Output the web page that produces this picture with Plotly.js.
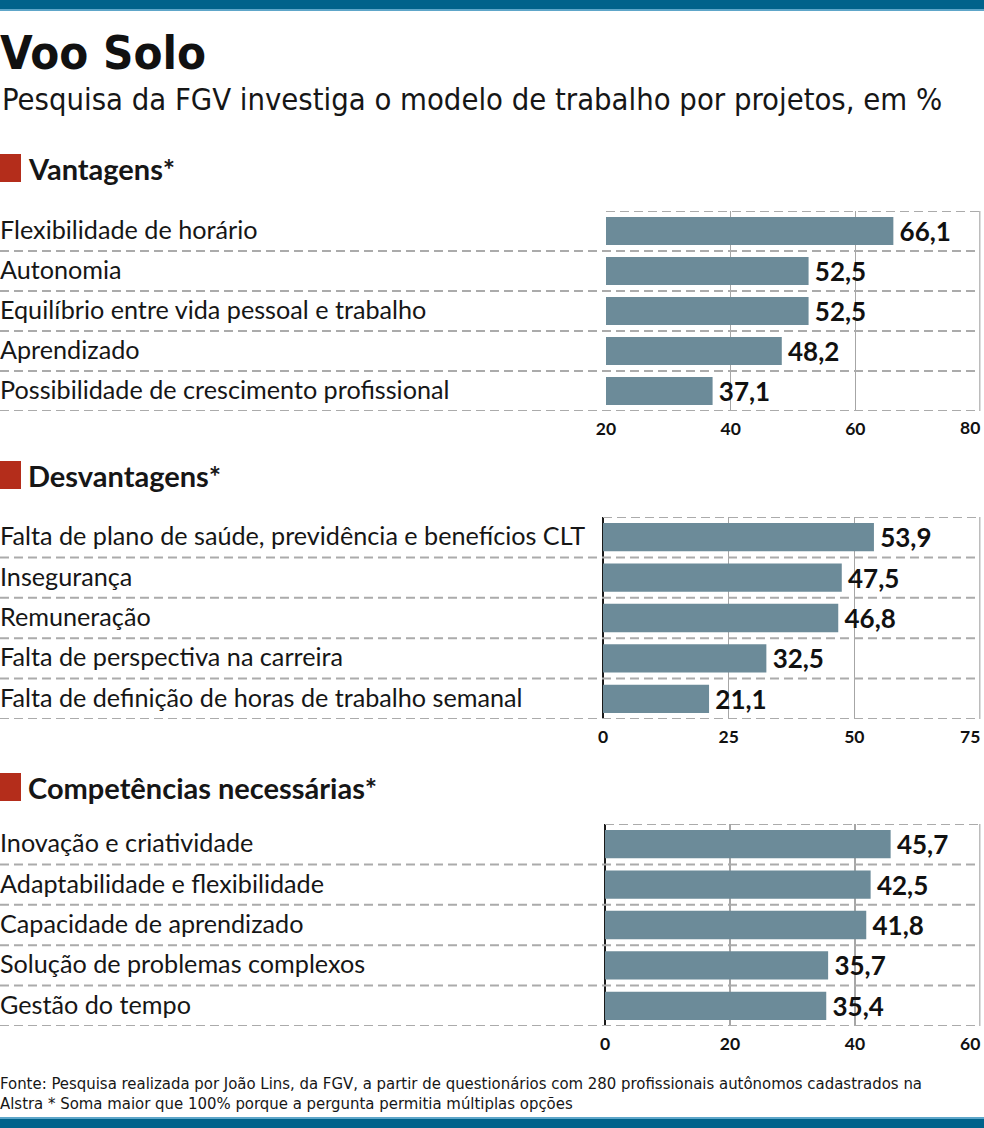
<!DOCTYPE html>
<html>
<head>
<meta charset="utf-8">
<script src="https://cdn.plot.ly/plotly-3.0.1.min.js"></script>
<style>html,body{margin:0;padding:0;background:#fff;}#chart{width:984px;height:1128px;}</style>
</head>
<body>
<div id="chart"></div>
<script>
// ---- DATA ----
const vantagensCats = ["Flexibilidade de horário", "Autonomia", "Equilíbrio entre vida pessoal e trabalho", "Aprendizado", "Possibilidade de crescimento profissional"];
const vantagensVals = [66.1, 52.5, 52.5, 48.2, 37.1];
const vantagensTicks = [20, 40, 60, 80];
const vantagensTickLabels = ["20", "40", "60", "80"];

const desvantagensCats = ["Falta de plano de saúde, previdência e benefícios CLT", "Insegurança", "Remuneração", "Falta de perspectiva na carreira", "Falta de definição de horas de trabalho semanal"];
const desvantagensVals = [53.9, 47.5, 46.8, 32.5, 21.1];
const desvantagensTicks = [0, 25, 50, 75];
const desvantagensTickLabels = ["0", "25", "50", "75"];

const competenciasCats = ["Inovação e criatividade", "Adaptabilidade e flexibilidade", "Capacidade de aprendizado", "Solução de problemas complexos", "Gestão do tempo"];
const competenciasVals = [45.7, 42.5, 41.8, 35.7, 35.4];
const competenciasTicks = [0, 20, 40, 60];
const competenciasTickLabels = ["0", "20", "40", "60"];

const sectionTitles = ["Vantagens*", "Desvantagens*", "Competências necessárias*"];
const titleText = "Voo Solo";
const subtitleText = "Pesquisa da FGV investiga o modelo de trabalho por projetos, em %";
const footerLines = ["Fonte: Pesquisa realizada por João Lins, da FGV, a partir de questionários com 280 profissionais autônomos cadastrados na",
                     "Alstra * Soma maior que 100% porque a pergunta permitia múltiplas opções"];

// ---- LAYOUT HELPERS ----
const W = 984, H = 1128;
const px = x => x / W;
const py = y => 1 - y / H;

const LABEL_FONT = "Lato, 'Noto Sans', sans-serif";
const BOLD_FONT = "Lato, Roboto, sans-serif";
const NARROW_FONT = "'DejaVu Sans Condensed', 'Liberation Sans', sans-serif";
const BAR_COLOR = "#6c8b99";
const GRID = "#a6a6a6";
const RED = "#b42d1b";
const INK = "#161616";
const TICK_FONT = {family: BOLD_FONT, size: 17.5, weight: "bold", color: "#111"};

const panels = [
  {cats: vantagensCats, vals: vantagensVals, ticks: vantagensTicks, tickLabels: vantagensTickLabels, range: [20, 80], x0: 606, x1: 980, y0: 211, y1: 411, zero: false, head: 168},
  {cats: desvantagensCats, vals: desvantagensVals, ticks: desvantagensTicks, tickLabels: desvantagensTickLabels, range: [0, 75], x0: 603, x1: 980, y0: 517, y1: 719, zero: true, head: 475},
  {cats: competenciasCats, vals: competenciasVals, ticks: competenciasTicks, tickLabels: competenciasTickLabels, range: [0, 60], x0: 605, x1: 980, y0: 824, y1: 1026, zero: true, head: 787}
];

const data = [];
const layout = {
  width: W, height: H,
  margin: {l: 0, r: 0, t: 0, b: 0, pad: 0},
  paper_bgcolor: "#ffffff",
  plot_bgcolor: "rgba(0,0,0,0)",
  showlegend: false,
  separators: ",.",
  title: {text: titleText, x: 0, xref: "paper", xanchor: "left", y: py(53), yref: "paper", yanchor: "middle",
          font: {family: NARROW_FONT, size: 47, weight: "bold", color: "#111"}},
  shapes: [],
  annotations: []
};

// bands
layout.shapes.push({type: "rect", xref: "paper", yref: "paper", x0: 0, x1: 1, y0: py(0), y1: py(9), fillcolor: "#00628b", line: {width: 0}});
layout.shapes.push({type: "rect", xref: "paper", yref: "paper", x0: 0, x1: 1, y0: py(9), y1: py(11), fillcolor: "#5ea6c9", line: {width: 0}});
layout.shapes.push({type: "rect", xref: "paper", yref: "paper", x0: 0, x1: 1, y0: py(1117), y1: py(1119), fillcolor: "#5ea6c9", line: {width: 0}});
layout.shapes.push({type: "rect", xref: "paper", yref: "paper", x0: 0, x1: 1, y0: py(1119), y1: py(1128), fillcolor: "#00628b", line: {width: 0}});

// subtitle
layout.annotations.push({text: subtitleText, xref: "paper", yref: "paper", x: 0, y: py(100), xanchor: "left", yanchor: "middle", showarrow: false,
  font: {family: NARROW_FONT, size: 30.7, color: INK}});

panels.forEach((p, k) => {
  const n = k === 0 ? "" : String(k + 1);
  const xa = "x" + n, ya = "y" + n;
  const last = p.ticks.length - 1;
  const span = p.range[1] - p.range[0];
  layout["xaxis" + n] = {
    domain: [px(p.x0), px(p.x1 + 0.5)], range: [p.range[0], p.range[1] + span * 0.5 / (p.x1 - p.x0)], anchor: ya,
    tickvals: p.ticks.slice(0, last), ticktext: p.tickLabels.slice(0, last), ticks: "", showline: false,
    showgrid: true, gridcolor: GRID, gridwidth: 1.5,
    zeroline: p.zero, zerolinecolor: "#1a1a1a", zerolinewidth: 2,
    tickfont: TICK_FONT,
    ticklabelstandoff: 5,
    fixedrange: true
  };
  layout["yaxis" + n] = {
    domain: [py(p.y1), py(p.y0)], type: "category", range: [p.cats.length - 0.5, -0.5], anchor: xa,
    showticklabels: false, showgrid: false, zeroline: false, ticks: "", fixedrange: true
  };
  data.push({
    type: "bar", orientation: "h", x: p.vals, y: p.cats, xaxis: xa, yaxis: ya,
    width: 0.7, marker: {color: BAR_COLOR, line: {width: 0}},
    texttemplate: "\u2009%{x:.1f}", textposition: "outside", cliponaxis: false, constraintext: "none",
    textfont: {family: BOLD_FONT, size: 26, weight: "bold", color: "#111"},
    hoverinfo: "none"
  });
  // last tick: gridline + right-aligned label so it stays inside the page
  layout.shapes.push({type: "line", xref: xa, yref: ya, x0: p.ticks[last], x1: p.ticks[last], y0: -0.5, y1: p.cats.length - 0.5,
    line: {color: GRID, width: 1.5}, layer: "below"});
  layout.annotations.push({text: p.tickLabels[last], xref: xa, yref: "paper", x: p.ticks[last], y: py(p.y1 + 17),
    xanchor: "right", yanchor: "middle", showarrow: false, xshift: 2, font: TICK_FONT});
  // dashed separators
  for (let i = -1; i < p.cats.length; i++) {
    layout.shapes.push({type: "line", xref: "paper", yref: ya,
      x0: i === -1 ? px(p.x0) : 0, x1: px(p.x1), y0: i + 0.5, y1: i + 0.5,
      line: {color: "#ababab", width: 2, dash: "9px,5px"}, layer: "above"});
  }
  // category labels
  p.cats.forEach((c, i) => {
    layout.annotations.push({text: c, xref: "paper", yref: ya, x: 0, y: i, xanchor: "left", yanchor: "middle", showarrow: false,
      yshift: 2, xshift: -2,
      font: {family: LABEL_FONT, size: 25.2, color: INK}});
  });
  // section header
  layout.shapes.push({type: "rect", xref: "paper", yref: "paper", x0: 0, x1: px(21), y0: py(p.head + 14), y1: py(p.head - 14), fillcolor: RED, line: {width: 0}});
  layout.annotations.push({text: sectionTitles[k], xref: "paper", yref: "paper", x: px(26), y: py(p.head), xanchor: "left", yanchor: "middle", showarrow: false,
    font: {family: BOLD_FONT, size: 29, weight: "bold", color: INK}});
});

// footer
footerLines.forEach((t, i) => {
  layout.annotations.push({text: t, xref: "paper", yref: "paper", x: 0, y: py(1083 + i * 20), xanchor: "left", yanchor: "middle", showarrow: false,
    xshift: -2, font: {family: NARROW_FONT, size: 16.6, color: INK}});
});

Plotly.newPlot("chart", data, layout, {staticPlot: true, displayModeBar: false});
</script>
</body>
</html>
